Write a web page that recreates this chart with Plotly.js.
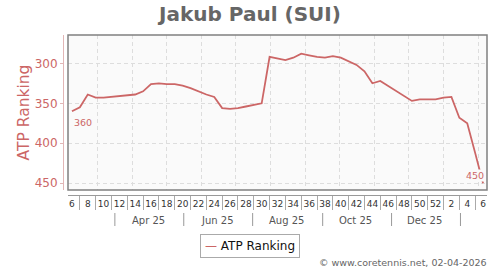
<!DOCTYPE html>
<html>
<head>
<meta charset="utf-8">
<script src="https://cdn.plot.ly/plotly-3.0.1.min.js"></script>
<style>
  html, body { margin: 0; padding: 0; background: #ffffff; }
  #chart { width: 500px; height: 270px; }
</style>
</head>
<body>
<div id="chart"></div>
<script>
// ISO week numbers shown on the axis (Feb 2025 -> Feb 2026)
const weekNums = [6,7,8,9,10,11,12,13,14,15,16,17,18,19,20,21,22,23,24,25,26,27,28,29,30,
  31,32,33,34,35,36,37,38,39,40,41,42,43,44,45,46,47,48,49,50,51,52,1,2,3,4,5,6];
// one date per ranking week
const weekDates = ['2025-02-06','2025-02-13','2025-02-20','2025-02-27','2025-03-06','2025-03-13',
  '2025-03-20','2025-03-27','2025-04-03','2025-04-10','2025-04-17','2025-04-24','2025-05-01',
  '2025-05-08','2025-05-15','2025-05-22','2025-05-29','2025-06-05','2025-06-12','2025-06-19',
  '2025-06-26','2025-07-03','2025-07-10','2025-07-17','2025-07-24','2025-07-31','2025-08-07',
  '2025-08-14','2025-08-21','2025-08-28','2025-09-04','2025-09-11','2025-09-18','2025-09-25',
  '2025-10-02','2025-10-09','2025-10-16','2025-10-23','2025-10-30','2025-11-06','2025-11-13',
  '2025-11-20','2025-11-27','2025-12-04','2025-12-11','2025-12-18','2025-12-25','2026-01-01',
  '2026-01-08','2026-01-15','2026-01-22','2026-01-29','2026-02-05'];
// ATP ranking per week
const ranks = [360,355,339,343,343,342,341,340,339,335,326,325,326,326,328,331,335,339,342,356,
  357,356,354,352,350,292,294,296,293,288,290,292,293,291,293,297,302,310,325,322,328,334,341,
  347,345,345,345,343,342,368,375,412,450];
// second row of the axis
const monthLabels = ['Apr 25','Jun 25','Aug 25','Oct 25','Dec 25'];
const monthLabelDates = ['2025-04-15','2025-06-15','2025-08-15','2025-10-15','2025-12-15'];
const monthSepDates = ['2025-03-16','2025-05-16','2025-07-16','2025-09-16','2025-11-16','2026-01-16'];
const yTicks = [300,350,400,450];

const FONT = 'DejaVu Sans, Verdana, sans-serif';
const RED = '#cc6666';
const PINK = '#e2b6b6';
const xRange = ['2025-02-02 12:00','2026-02-08 12:00'];

// layout geometry (px)
const ML = 63, MR = 13, MT = 35, MB = 75;
const PW = 500 - ML - MR, PH = 270 - MT - MB;
const dx = 5 / PW, dy = 5 / PH;
const px2x = p => (p - ML) / PW;
const py2y = p => (270 - MB - p) / PH;

const evenDates = weekDates.filter((d, i) => i % 2 === 0);
const evenLabels = weekNums.filter((d, i) => i % 2 === 0).map(String);
const oddDates = weekDates.filter((d, i) => i % 2 === 1);

const traces = [
  { x: weekDates, y: ranks, xaxis: 'x', yaxis: 'y', type: 'scatter', mode: 'lines',
    line: { color: RED, width: 1.8 }, name: 'ATP Ranking', showlegend: false, hoverinfo: 'skip' },
  { x: weekDates, y: ranks, xaxis: 'x2', yaxis: 'y', type: 'scatter', mode: 'none',
    showlegend: false, hoverinfo: 'skip' }
];

const shapes = [
  { type: 'rect', xref: 'paper', yref: 'paper', x0: dx, x1: 1, y0: dy, y1: 1,
    line: { color: '#808080', width: 1.5 }, layer: 'above' }
];
monthSepDates.forEach(d => shapes.push({
  type: 'line', xref: 'x', yref: 'paper', x0: d, x1: d, y0: py2y(213), y1: py2y(226),
  line: { color: '#999999', width: 1 }
}));

const annotations = [
  { xref: 'x', yref: 'y', x: weekDates[0], y: ranks[0], text: String(ranks[0]),
    showarrow: false, xanchor: 'left', yanchor: 'top', xshift: 0, yshift: -4,
    font: { family: FONT, size: 9.5, color: RED } },
  { xref: 'x', yref: 'y', x: weekDates[weekDates.length - 1], y: ranks[ranks.length - 1],
    text: String(ranks[ranks.length - 1]), showarrow: false, xanchor: 'right', yanchor: 'bottom',
    xshift: 2, yshift: 1, bgcolor: '#fafafa', borderpad: 0,
    font: { family: FONT, size: 9.5, color: RED } },
  { xref: 'paper', yref: 'paper', x: px2x(250), y: py2y(246), xanchor: 'center', yanchor: 'middle',
    text: '<span style="color:' + RED + '">\u2014</span> ATP Ranking', showarrow: false,
    bordercolor: '#aaaaaa', borderwidth: 1, borderpad: 4, bgcolor: '#ffffff',
    font: { family: FONT, size: 12, color: '#111111' } },
  { xref: 'paper', yref: 'paper', x: px2x(489), y: py2y(262), xanchor: 'right', yanchor: 'middle',
    text: '\u00a9 www.coretennis.net, 02-04-2026', showarrow: false,
    font: { family: FONT, size: 9.5, color: '#666666' } }
];
monthLabels.forEach((t, i) => annotations.push({
  xref: 'x', yref: 'paper', x: monthLabelDates[i], y: py2y(220), text: t, showarrow: false,
  xanchor: 'center', yanchor: 'middle', font: { family: FONT, size: 10, color: '#555555' }
}));

const layout = {
  width: 500, height: 270,
  margin: { l: ML, r: MR, t: MT, b: MB, pad: 0 },
  paper_bgcolor: '#ffffff', plot_bgcolor: '#fafafa',
  hovermode: false, showlegend: false,
  font: { family: FONT },
  title: { text: '<b>Jakub Paul (SUI)</b>', xref: 'container', yref: 'container',
    x: 0.5, xanchor: 'center', y: 1 - 14 / 270, yanchor: 'middle',
    font: { family: FONT, size: 20, color: '#666666' } },
  xaxis: { type: 'date', domain: [dx, 1], anchor: 'y', range: xRange,
    tickmode: 'linear', tick0: '2025-03-01', dtick: 'M1',
    showgrid: true, gridcolor: '#dddddd', gridwidth: 1, griddash: '4px,3px',
    showticklabels: false, ticks: '', showline: false, zeroline: false },
  xaxis2: { type: 'date', overlaying: 'x', anchor: 'free', position: 0, range: xRange,
    tickmode: 'array', tickvals: evenDates, ticktext: evenLabels, ticks: '',
    showgrid: false, zeroline: false, showline: true, linecolor: '#999999', linewidth: 1,
    tickfont: { family: FONT, size: 9, color: '#333333' },
    minor: { tickmode: 'array', tickvals: oddDates, ticks: 'outside', ticklen: 14,
      tickcolor: '#aaaaaa', tickwidth: 1, showgrid: false } },
  yaxis: { domain: [dy, 1], anchor: 'free', position: 0, range: [458.4, 264.6],
    tickmode: 'array', tickvals: yTicks, ticktext: yTicks.map(String),
    showgrid: true, gridcolor: '#dddddd', gridwidth: 1, griddash: '4px,3px', zeroline: false,
    showline: true, linecolor: PINK, linewidth: 1,
    ticks: 'outside', ticklen: 3, tickcolor: PINK, tickwidth: 1,
    tickfont: { family: FONT, size: 12, color: RED },
    title: { text: 'ATP Ranking', standoff: 0, font: { family: FONT, size: 15.5, color: RED } } },
  shapes: shapes,
  annotations: annotations
};

Plotly.newPlot('chart', traces, layout, { staticPlot: true, displayModeBar: false });
</script>
</body>
</html>
